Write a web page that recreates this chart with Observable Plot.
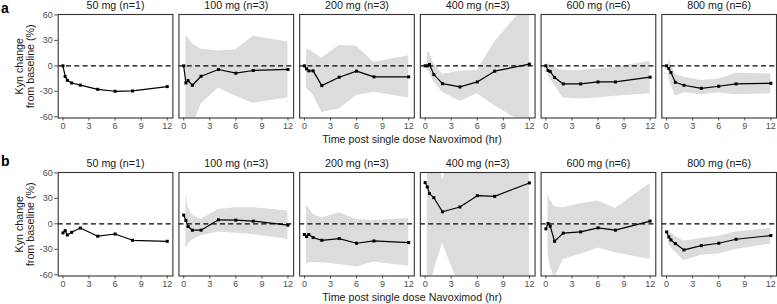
<!DOCTYPE html>
<html><head><meta charset="utf-8">
<script src="https://cdn.jsdelivr.net/npm/d3@7"></script>
<script src="https://cdn.jsdelivr.net/npm/@observablehq/plot@0.6"></script>
<style>
body{margin:0;background:#fff;font-family:"Liberation Sans",Arial,sans-serif;}
#chart svg{display:block;overflow:visible}
</style></head><body><div id="chart"></div>
<script>
const doses = ["50 mg (n=1)","100 mg (n=3)","200 mg (n=3)","400 mg (n=3)","600 mg (n=6)","800 mg (n=6)"];
const times = [0, 0.25, 0.5, 1, 2, 4, 6, 8, 12];
const bandTimes = [0.25, 0.5, 1, 2, 4, 6, 8, 12];
const xTicks = [0, 3, 6, 9, 12];
const yTicks = [-60, -30, 0, 30, 60];
const rowLabels = ["a", "b"];
const yTitle = "Kyn change\nfrom baseline (%)";
const xTitle = "Time post single dose Navoximod (hr)";

// Panel a: mean Kyn change (%)
const meanA = [
  [0, -12.5, -17, -20.2, -22.8, -27.7, -30, -29.6, -24.5],
  [0, -20.2, -17.4, -22.9, -12.3, -4.3, -8.7, -5.5, -4.3],
  [0, -3.6, -5.9, -5.9, -23.3, -13.4, -6.3, -13, -13],
  [0, 0, 1.6, -10.3, -21, -24.9, -19, -6.3, 2],
  [0, -5.5, -6.7, -13.8, -21.3, -21.3, -19, -19, -13.4],
  [0, -3.2, -7.9, -19.4, -22.9, -26.5, -24.1, -21.3, -20.6]
];
const lowerA = [
  null,
  [-75, -68, -72, -45, -26, -36, -44, -38],
  [-27, -29, -34, -55, -51, -35, -31, -38],
  [-4, -8, -19, -31, -42, -33, -47, -72],
  [-12, -15, -23, -38, -39, -38, -36, -33],
  [-15, -22, -36, -31.6, -34, -32, -34, -33]
];
const upperA = [
  null,
  [35, 33, 26, 19.4, 17.4, 19, 34.8, 28],
  [18, 19.4, 16, 9, 24, 23, 4.3, 12],
  [17, 15, 2.4, -10, -6.3, -5.5, 28, 76],
  [3, 2, -2.4, -5.5, -5.5, -3.6, -1.6, 5.5],
  [8.3, 2.4, -9.5, -13.4, -17.4, -15.4, -8.7, -9.5]
];

// Panel b
const meanB = [
  [-10.7, -8, -13.2, -10, -5, -14.6, -12, -19.4, -20.6],
  [10.3, 4, -3.2, -7.5, -7.5, 4.7, 4.3, 3.2, -1.6],
  [-12.6, -15, -12.6, -16.2, -19.4, -17.4, -22.9, -20.2, -22.1],
  [48.6, 43.5, 35.6, 30.8, 14.2, 19.8, 33.2, 32.4, 48.2],
  [-5.9, 0.4, -2.8, -20.6, -11, -9.5, -4.7, -7.5, 3.2],
  [-9.5, -15.4, -19, -23.3, -30.8, -25.7, -22.9, -18.2, -13.8]
];
const lowerB = [
  null,
  [-29, -24, -19, -14, -9.5, -11, -12.6, -18.6],
  [-48, -46, -46, -46, -48, -51, -45, -50],
  [-70, -80, -56, -23, -75, -70, -80, -70],
  [-36, -50, -64, -42, -36, -28.5, -34, -42],
  [-24.5, -28, -33, -43.5, -37, -35.6, -30.4, -23.7]
];
const upperB = [
  null,
  [35, 20, 10, 5, 17, 19, 19, 15],
  [22, 19, 11, 7, 13, 5, 4, 6.3],
  [157, 150, 117, 51, 115, 136, 145, 166],
  [35, 28, 20, 19, 23.7, 27, 18, 47.4],
  [-6.7, -10.7, -14.6, -20.6, -17.4, -14.6, -9.5, -5.5]
];

function lineRows(mean) {
  return doses.flatMap((d, i) => times.map((t, j) => ({dose: d, t, v: mean[i][j]})));
}
function bandRows(lo, hi) {
  return doses.flatMap((d, i) => hi[i] ? bandTimes.map((t, j) => ({dose: d, t, lo: lo[i][j], hi: hi[i][j]})) : []);
}

function makeRow(mean, lo, hi, rowLabel, labelDy, height, marginBottom) {
  const line = lineRows(mean);
  const band = bandRows(lo, hi);
  return Plot.plot({
    width: 777, height,
    marginTop: 14, marginBottom, marginLeft: 57.7, marginRight: 1,
    style: {fontFamily: "'Liberation Sans', Arial, sans-serif", background: "white", overflow: "visible"},
    fx: {domain: doses, paddingInner: 0.05, paddingOuter: 0, round: false, label: null, axis: null},
    x: {domain: [-0.55, 12.65], axis: null},
    y: {domain: [-61.5, 60.5], axis: null},
    marks: [
      Plot.areaY(band, {fx: "dose", x: "t", y1: "lo", y2: "hi", fill: "#dcdcdc", clip: true}),
      Plot.ruleY([0], {stroke: "black", strokeDasharray: "5,3.3", strokeWidth: 1.2}),
      Plot.lineY(line, {fx: "dose", x: "t", y: "v", stroke: "black", strokeWidth: 1.2}),
      Plot.dot(line, {fx: "dose", x: "t", y: "v", symbol: "square", r: 1.7, fill: "black", stroke: "none"}),
      Plot.frame({stroke: "#333", strokeWidth: 1.1}),
      Plot.axisFx({anchor: "top", tickSize: 0, tickPadding: 5.5, label: null, fontSize: 10.7, color: "#1a1a1a"}),
      Plot.axisX({ticks: xTicks, tickSize: 3, tickPadding: 1.4, fontSize: 9, label: null, color: "#4d4d4d", tickFormat: d3.format("d")}),
      Plot.axisY({ticks: yTicks, tickSize: 3.5, tickPadding: 2, fontSize: 9, label: null, color: "#4d4d4d", tickFormat: d => d < 0 ? "-" + Math.abs(d) : String(d)}),
      Plot.text([{dose: doses[0], s: yTitle}], {fx: "dose", text: "s", frameAnchor: "left", rotate: -90, dx: -33.3, fontSize: 10.7, fill: "#1a1a1a", lineAnchor: "middle", textAnchor: "middle"}),
      Plot.text([{dose: doses[3], s: xTitle}], {fx: "dose", text: "s", frameAnchor: "bottom-left", dx: -8.4, dy: 25, lineAnchor: "bottom", textAnchor: "middle", fontSize: 10.7, fill: "#1a1a1a"}),
      Plot.text([{dose: doses[0], s: rowLabel}], {fx: "dose", text: "s", frameAnchor: "top-left", dx: -57.2, dy: labelDy, lineAnchor: "bottom", textAnchor: "start", fontSize: 14, fontWeight: "bold", fill: "black"})
    ]
  });
}

const chart = document.getElementById("chart");
chart.appendChild(makeRow(meanA, lowerA, upperA, rowLabels[0], -1.3, 158, 40.5));
chart.appendChild(makeRow(meanB, lowerB, upperB, rowLabels[1], -7, 146, 28.5));
</script>
</body></html>
